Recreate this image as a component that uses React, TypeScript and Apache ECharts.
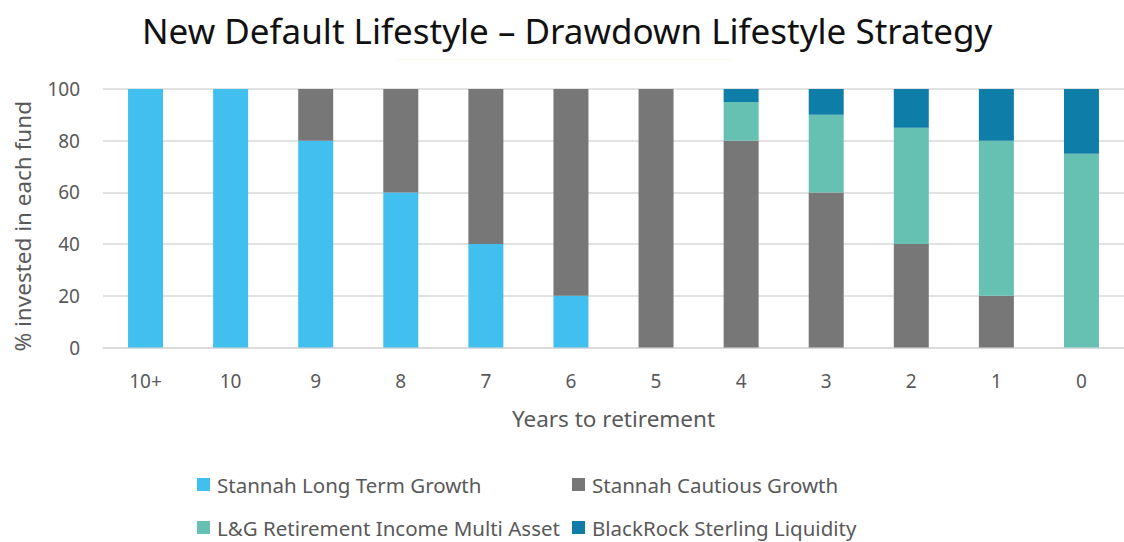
import React, { useEffect, useRef } from "react";
import * as echarts from "echarts";

const categories = ["10+", "10", "9", "8", "7", "6", "5", "4", "3", "2", "1", "0"];
const longTermGrowth = [100, 100, 80, 60, 40, 20, 0, 0, 0, 0, 0, 0];
const cautiousGrowth = [0, 0, 20, 40, 60, 80, 100, 80, 60, 40, 20, 0];
const multiAsset = [0, 0, 0, 0, 0, 0, 0, 15, 30, 45, 60, 75];
const liquidity = [0, 0, 0, 0, 0, 0, 0, 5, 10, 15, 20, 25];
const seriesNames = [
  "Stannah Long Term Growth",
  "Stannah Cautious Growth",
  "L&G Retirement Income Multi Asset",
  "BlackRock Sterling Liquidity",
];
const colors = ["#41BFEE", "#777777", "#67C1B2", "#0E7DA8"];

const FONT = "'Noto Sans', 'Open Sans', sans-serif";
const TXT = "#595959";

export default function App() {
  const ref = useRef<HTMLDivElement>(null);
  useEffect(() => {
    if (!ref.current) return;
    const chart = echarts.init(ref.current, undefined, { renderer: "svg" });
    const data = [longTermGrowth, cautiousGrowth, multiAsset, liquidity];
    const legendPos = [
      { left: 197, top: 474 },
      { left: 572, top: 474 },
      { left: 197, top: 517 },
      { left: 572, top: 517 },
    ];
    chart.setOption({
      animation: false,
      textStyle: { fontFamily: FONT },
      title: {
        text: "New Default Lifestyle – Drawdown Lifestyle Strategy",
        left: 137,
        top: 8,
        textStyle: { fontSize: 35, fontWeight: "normal", color: "#111", fontFamily: FONT },
      },
      legend: seriesNames.map((n, i) => ({
        data: [n],
        left: legendPos[i].left,
        top: legendPos[i].top,
        padding: 0,
        itemWidth: 13,
        itemHeight: 13,
        itemGap: 0,
        icon: "rect",
        textStyle: { fontSize: 20.5, color: TXT, fontFamily: FONT, padding: [0, 0, 0, 2] },
      })),
      grid: { left: 103, right: -3, top: 89, bottom: 542 - 347.5 },
      xAxis: {
        type: "category",
        data: categories,
        name: "Years to retirement",
        nameLocation: "middle",
        nameGap: 59,
        nameTextStyle: { fontSize: 22.5, color: TXT },
        axisLine: { lineStyle: { color: "#D9D9D9", width: 1.5 } },
        axisTick: { show: false },
        axisLabel: { fontSize: 19, color: TXT, margin: 24 },
      },
      yAxis: {
        type: "value",
        min: 0,
        max: 100,
        interval: 20,
        name: "% invested in each fund",
        nameLocation: "middle",
        nameGap: 69,
        nameTextStyle: { fontSize: 22.5, color: TXT, padding: [0, 16, 0, 0] },
        axisLine: { show: false },
        axisTick: { show: false },
        axisLabel: { fontSize: 19, color: TXT, margin: 23 },
        splitLine: { lineStyle: { color: "#D9D9D9", width: 1.5 } },
      },
      series: seriesNames.map((n, i) => ({
        name: n,
        type: "bar",
        stack: "total",
        barWidth: 35,
        data: data[i],
        itemStyle: { color: colors[i] },
      })),
      graphic: [
        {
          type: "line",
          shape: { x1: 397, y1: 59.5, x2: 733, y2: 59.5 },
          style: { stroke: "#FBFBE6", lineWidth: 1 },
        },
      ],
    });
    return () => chart.dispose();
  }, []);
  return (
    <div
      ref={ref}
      style={{ position: "fixed", left: 0, top: 0, width: 1124, height: 542, background: "#fff" }}
    />
  );
}
